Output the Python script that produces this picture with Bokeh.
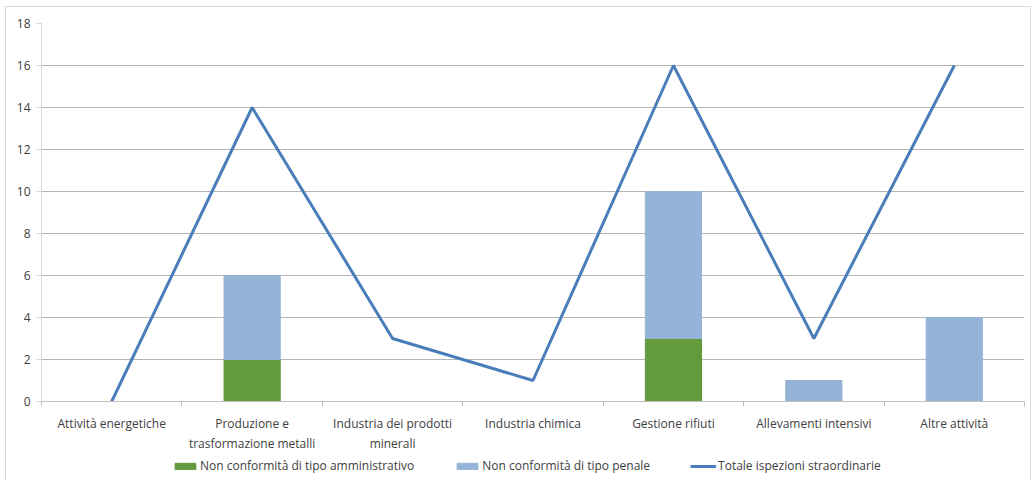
from bokeh.plotting import figure
from bokeh.layouts import column
from bokeh.models import Range1d, FixedTicker, Legend, LegendItem, ColumnDataSource
from bokeh.embed import file_html
from bokeh.resources import INLINE

categories = ["Attività energetiche", "Produzione e\ntrasformazione metalli",
              "Industria dei prodotti\nminerali", "Industria chimica",
              "Gestione rifiuti", "Allevamenti intensivi", "Altre attività"]
amministrativo = [0, 2, 0, 0, 3, 0, 0]
penale = [0, 4, 0, 0, 7, 1, 4]
totale = [0, 14, 3, 1, 16, 3, 16]
y_ticks = list(range(0, 19, 2))
legend_labels = ["Non conformità di tipo amministrativo", "Non conformità di tipo penale",
                 "Totale ispezioni straordinarie"]

n = len(categories)
xc = [i + 0.5 for i in range(n)]
top_pen = [a + b for a, b in zip(amministrativo, penale)]

FONT = "Open Sans"
GREEN = "#629a3d"
LBLUE = "#95b3d7"
LINE = "#4a7ebb"

p = figure(width=1024, height=446, output_backend="svg", toolbar_location=None,
           x_range=Range1d(0, n), y_range=Range1d(0, 18),
           min_border_left=35, min_border_right=6, min_border_top=16, min_border_bottom=0)
p.frame_width = 983
p.frame_height = 378
p.outline_line_color = None
p.background_fill_color = "white"
p.border_fill_color = "white"

src = ColumnDataSource(dict(x=xc, a=amministrativo, t=top_pen, tot=totale))
r_a = p.vbar(x="x", bottom=0, top="a", width=0.4, color=GREEN, source=src)
r_p = p.vbar(x="x", bottom="a", top="t", width=0.4, color=LBLUE, source=src)
r_l = p.line(x="x", y="tot", line_color=LINE, line_width=3, source=src)

p.xaxis.ticker = FixedTicker(ticks=xc, minor_ticks=list(range(n + 1)))
p.xaxis.major_label_overrides = {x: c for x, c in zip(xc, categories)}
p.xaxis.major_tick_line_color = None
p.xaxis.major_tick_out = 0
p.xaxis.major_tick_in = 0
p.xaxis.minor_tick_line_color = "#bfbfbf"
p.xaxis.minor_tick_out = 5
p.xaxis.minor_tick_in = 0
p.xaxis.axis_line_color = "#bfbfbf"
p.xaxis.major_label_text_font = FONT
p.xaxis.major_label_text_font_size = "12px"
p.xaxis.major_label_text_color = "#404040"
p.xaxis.major_label_standoff = 8

p.yaxis.ticker = FixedTicker(ticks=y_ticks)
p.yaxis.axis_line_color = "#d9d9d9"
p.yaxis.major_tick_line_color = "#d9d9d9"
p.yaxis.major_tick_out = 5
p.yaxis.major_tick_in = 0
p.yaxis.minor_tick_line_color = None
p.yaxis.major_label_text_font = FONT
p.yaxis.major_label_text_font_size = "12px"
p.yaxis.major_label_text_color = "#404040"
p.yaxis.major_label_standoff = 6

p.xgrid.grid_line_color = None
p.ygrid.ticker = FixedTicker(ticks=y_ticks)
p.ygrid.grid_line_color = "#b5b5b5"
p.ygrid.grid_line_width = 1

# legend strip (swatch proxies carry no drawable data)
nan = float("nan")
lf = figure(width=1024, height=26, output_backend="svg", toolbar_location=None,
            x_range=Range1d(0, 1), y_range=Range1d(0, 1),
            min_border=0, outline_line_color=None)
lf.axis.visible = False
lf.grid.visible = False
la = lf.vbar(x=[nan], top=[nan], width=0.1, color=GREEN)
lp = lf.vbar(x=[nan], top=[nan], width=0.1, color=LBLUE)
ll = lf.line(x=[nan], y=[nan], line_color=LINE, line_width=3)
lg = Legend(items=[LegendItem(label=l, renderers=[r]) for l, r in zip(legend_labels, [la, lp, ll])],
            orientation="horizontal", location=(131, 6), border_line_color=None,
            background_fill_alpha=0, padding=0, margin=0, spacing=40,
            label_text_font=FONT, label_text_font_size="12px",
            label_text_color="#404040", glyph_width=26, glyph_height=8,
            label_standoff=2, label_height=14)
lf.add_layout(lg, "center")

layout = column(p, lf, spacing=0)
layout.styles = {"border": "1px solid #d9d9d9", "margin": "6px 0 0 5px"}

open("out.html", "w").write(file_html(layout, INLINE))
